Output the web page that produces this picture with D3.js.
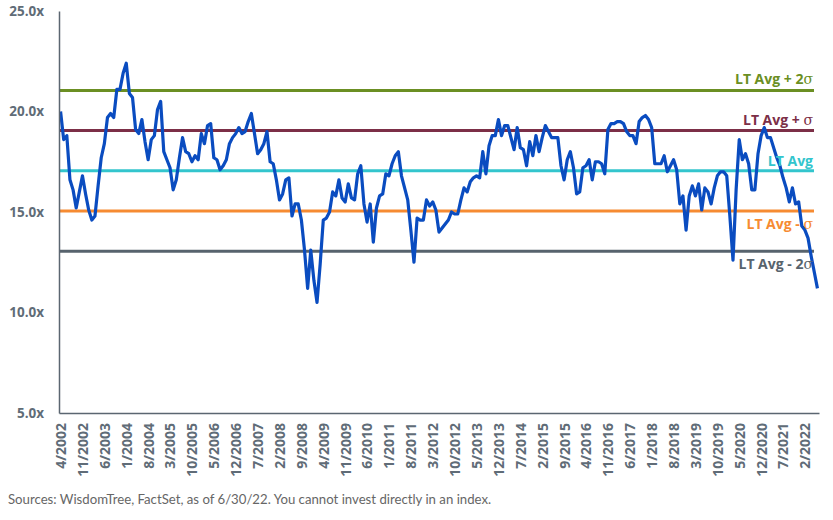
<!DOCTYPE html>
<html>
<head>
<meta charset="utf-8">
<script src="https://cdn.jsdelivr.net/npm/d3@7"></script>
<style>
  body { margin: 0; background: #fff; }
  svg { display: block; }
</style>
</head>
<body>
<div id="chart"></div>
<script>
// forward P/E, monthly, 4/2002 .. 6/2022
var peValues = [
  20.0, 18.6, 18.8, 16.6, 16.1, 15.2, 16.0, 16.8, 15.9, 15.1,
  14.6, 14.8, 16.3, 17.7, 18.4, 19.7, 19.9, 19.7, 21.1, 21.1,
  21.9, 22.4, 20.9, 20.7, 19.1, 18.9, 19.6, 18.5, 17.6, 18.6,
  18.8, 20.1, 20.5, 18.0, 17.6, 17.2, 16.1, 16.6, 17.7, 18.7,
  18.0, 17.9, 17.5, 17.8, 17.6, 18.9, 18.4, 19.3, 19.4, 17.7,
  17.6, 17.1, 17.3, 17.6, 18.4, 18.7, 18.9, 19.2, 18.9, 19.0,
  19.5, 19.9, 18.9, 17.9, 18.1, 18.4, 19.0, 17.5, 17.4, 16.6,
  15.6, 15.9, 16.6, 16.7, 14.8, 15.4, 15.4, 14.6, 13.1, 11.2,
  13.1, 11.6, 10.5, 12.4, 14.6, 14.7, 15.0, 16.0, 15.8, 16.6,
  15.7, 15.5, 16.4, 15.7, 15.6, 16.9, 17.3, 15.4, 14.5, 15.4,
  13.5, 15.2, 15.8, 15.9, 16.9, 16.8, 17.4, 17.8, 18.0, 16.8,
  16.2, 15.6, 14.1, 12.5, 14.7, 14.6, 14.6, 15.6, 15.3, 15.5,
  15.1, 14.0, 14.2, 14.4, 14.6, 15.0, 14.9, 14.9, 15.6, 16.2,
  16.0, 16.5, 16.7, 16.8, 16.7, 18.0, 16.9, 18.3, 18.8, 18.8,
  19.6, 18.8, 19.3, 19.3, 18.7, 18.1, 19.2, 18.2, 18.1, 17.3,
  18.5, 17.8, 18.8, 18.0, 18.7, 19.3, 19.0, 18.7, 18.7, 18.7,
  17.3, 16.6, 17.6, 18.0, 17.2, 15.9, 16.0, 17.2, 17.3, 17.6,
  16.6, 17.5, 17.5, 17.4, 16.9, 19.1, 19.4, 19.4, 19.5, 19.5,
  19.4, 19.0, 18.8, 18.8, 18.4, 19.5, 19.7, 19.8, 19.6, 19.2,
  17.4, 17.4, 17.4, 17.8, 17.0, 17.3, 17.6, 17.1, 15.4, 15.8,
  14.1, 15.8, 16.3, 15.8, 16.4, 15.1, 16.2, 16.0, 15.4, 16.2,
  16.8, 17.0, 17.0, 16.8, 14.8, 12.6, 16.1, 18.6, 17.6, 17.9,
  17.4, 16.1, 16.1, 17.9, 18.8, 19.2, 18.7, 18.7, 18.2, 17.7,
  17.3, 16.7, 16.2, 15.5, 16.2, 15.4, 15.5, 14.3, 14.1, 13.7,
  12.8, 12.0, 11.2
];

var xTickLabels = ["4/2002", "11/2002", "6/2003", "1/2004", "8/2004", "3/2005", "10/2005",
  "5/2006", "12/2006", "7/2007", "2/2008", "9/2008", "4/2009", "11/2009", "6/2010",
  "1/2011", "8/2011", "3/2012", "10/2012", "5/2013", "12/2013", "7/2014", "2/2015",
  "9/2015", "4/2016", "11/2016", "6/2017", "1/2018", "8/2018", "3/2019", "10/2019",
  "5/2020", "12/2020", "7/2021", "2/2022"];

var yTicks = [5, 10, 15, 20, 25];

var bandNames  = ["LT Avg + 2", "LT Avg + ", "LT Avg", "LT Avg - ", "LT Avg - 2"];
var bandSigma  = [true, true, false, true, true];
var bandValues = [21.05, 19.05, 17.05, 15.05, 13.05];
var bandColors = ["#6b8f23", "#7c2f47", "#33c5cd", "#f68b32", "#57636d"];

// month categories 4/2002 onwards, one per value
var months = [];
for (var i = 0; i < peValues.length; i++) {
  var m = (3 + i) % 12 + 1;
  var yr = 2002 + Math.floor((3 + i) / 12);
  months.push(m + "/" + yr);
}

var W = 833, H = 520;
var svg = d3.select("#chart").append("svg")
  .attr("width", W)
  .attr("height", H);

var x = d3.scalePoint()
  .domain(months)
  .range([59, 819])
  .padding(0.5);

var y = d3.scaleLinear()
  .domain([5, 25])
  .range([413, 11]);

var axisColor = "#5b6671";
var textColor = "#606c77";

// reference lines
bandValues.forEach(function(v, k) {
  svg.append("line")
    .attr("x1", 60)
    .attr("x2", 814)
    .attr("y1", y(v))
    .attr("y2", y(v))
    .attr("stroke", bandColors[k])
    .attr("stroke-width", 3);
});

// main series
var line = d3.line()
  .x(function(d, i) { return x(months[i]); })
  .y(function(d) { return y(d); });

svg.append("path")
  .datum(peValues)
  .attr("fill", "none")
  .attr("stroke", "#0a4cc0")
  .attr("stroke-width", 3.2)
  .attr("stroke-linejoin", "round")
  .attr("d", line);

// band labels (above the upper three, below the lower two)
var labelDy = [-11, -10, -10, 13, 13];
bandValues.forEach(function(v, k) {
  var t = svg.append("text")
    .attr("x", 813)
    .attr("y", y(v) + labelDy[k])
    .attr("dy", "0.35em")
    .attr("text-anchor", "end")
    .attr("fill", bandColors[k])
    .style("font-family", "'Open Sans', sans-serif")
    .style("font-size", "14px")
    .style("font-weight", "700")
    .text(bandNames[k]);
  if (bandSigma[k]) {
    t.append("tspan")
      .style("font-family", "'DejaVu Serif', serif")
      .style("font-weight", "400")
      .style("font-size", "14px")
      .text("σ");
  }
});

// axes
var yAxis = d3.axisLeft(y)
  .tickValues(yTicks)
  .tickSize(0)
  .tickPadding(15)
  .tickFormat(function(d) { return d3.format(".1f")(d) + "x"; });

var gy = svg.append("g")
  .attr("transform", "translate(59,0)")
  .call(yAxis);
gy.select(".domain").attr("stroke", axisColor).attr("stroke-width", 1.5);
gy.selectAll("text")
  .attr("fill", textColor)
  .style("font-family", "'Open Sans', sans-serif")
  .style("font-size", "13.5px")
  .style("font-weight", "700");

var xAxis = d3.axisBottom(x)
  .tickValues(xTickLabels)
  .tickSize(0);

var gx = svg.append("g")
  .attr("transform", "translate(0,413)")
  .call(xAxis);
gx.select(".domain").attr("stroke", axisColor).attr("stroke-width", 1.5);
gx.selectAll("text")
  .attr("fill", textColor)
  .attr("transform", "rotate(-90)")
  .attr("x", -10)
  .attr("y", 0)
  .attr("dy", "0.35em")
  .style("text-anchor", "end")
  .style("font-family", "'Open Sans', sans-serif")
  .style("font-size", "14px")
  .style("font-weight", "700");

// source note
svg.append("text")
  .attr("x", 8)
  .attr("y", 504)
  .attr("fill", "#666")
  .style("font-family", "Lato, sans-serif")
  .style("font-size", "13.2px")
  .text("Sources: WisdomTree, FactSet, as of 6/30/22. You cannot invest directly in an index.");
</script>
</body>
</html>
